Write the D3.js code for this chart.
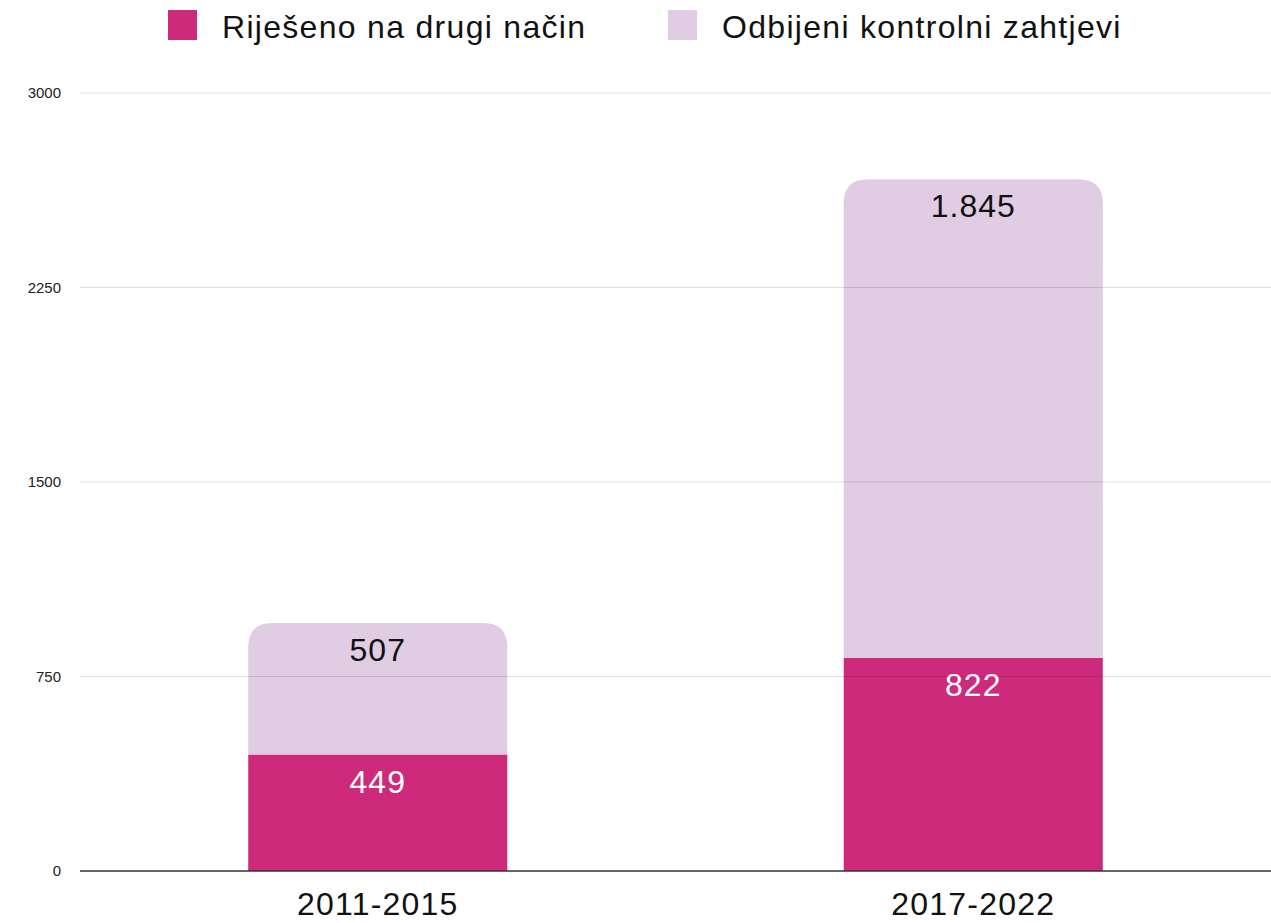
<!DOCTYPE html>
<html>
<head>
<meta charset="utf-8">
<script src="https://cdn.jsdelivr.net/npm/d3@7"></script>
<style>
  body { margin: 0; background: #fff; }
  text { font-family: "Liberation Sans", Arial, sans-serif; }
</style>
</head>
<body>
<svg id="chart"></svg>
<script>
// data
var periods = ["2011-2015", "2017-2022"];
var series = ["Riješeno na drugi način", "Odbijeni kontrolni zahtjevi"];
var resolved = [449, 822];
var rejected = [507, 1845];
var yTicks = [0, 750, 1500, 2250, 3000];
var colors = ["#cd2a7b", "#e0cde3"];

var svgWidth = 1271, svgHeight = 923;
var margin = {top: 93, right: 0, bottom: 52, left: 80};

var svg = d3.select("#chart")
  .attr("width", svgWidth)
  .attr("height", svgHeight);

var yScale = d3.scaleLinear()
  .domain([0, 3000])
  .range([svgHeight - margin.bottom, margin.top]);

var xScale = d3.scaleBand()
  .domain(periods)
  .range([margin.left, svgWidth - margin.right]);

var barWidth = xScale.bandwidth() * 0.435;
var radius = 24;

// thousands separator is a dot
var fmt = d3.formatLocale({decimal: ",", thousands: ".", grouping: [3], currency: ["", ""]}).format(",d");

// stack the two series
var rows = periods.map(function(p, i) {
  return {period: p, resolved: resolved[i], rejected: rejected[i]};
});
var stacked = d3.stack().keys(["resolved", "rejected"])(rows);

// path with rounded top corners only
function topRounded(x, y, w, h, r) {
  r = Math.min(r, h, w / 2);
  return "M" + x + "," + (y + h) +
    "V" + (y + r) +
    "Q" + x + "," + y + " " + (x + r) + "," + y +
    "H" + (x + w - r) +
    "Q" + (x + w) + "," + y + " " + (x + w) + "," + (y + r) +
    "V" + (y + h) + "Z";
}

// y axis labels
var yAxis = svg.append("g")
  .attr("transform", "translate(61,0)")
  .call(d3.axisLeft(yScale).tickValues(yTicks).tickFormat(function(d) { return d; }).tickSize(0).tickPadding(0));
yAxis.select(".domain").remove();
yAxis.selectAll("text")
  .attr("font-size", 15)
  .attr("fill", "#222")
  .attr("font-family", "Liberation Sans, Arial, sans-serif");

// bars
stacked.forEach(function(layer, li) {
  svg.selectAll(".seg" + li)
    .data(layer)
    .enter()
    .append("path")
    .attr("class", "seg" + li)
    .attr("fill", colors[li])
    .attr("d", function(d) {
      var x = xScale(d.data.period) + (xScale.bandwidth() - barWidth) / 2;
      var y0 = yScale(d[1]), y1 = yScale(d[0]);
      if (li == stacked.length - 1) return topRounded(x, y0, barWidth, y1 - y0, radius);
      return "M" + x + "," + y0 + "h" + barWidth + "V" + y1 + "H" + x + "Z";
    });

  svg.selectAll(".lab" + li)
    .data(layer)
    .enter()
    .append("text")
    .attr("class", "lab" + li)
    .attr("x", function(d) { return xScale(d.data.period) + xScale.bandwidth() / 2; })
    .attr("y", function(d) { return yScale(d[1]) + 38; })
    .attr("text-anchor", "middle")
    .attr("font-size", 32)
    .attr("letter-spacing", 1)
    .attr("fill", li == 0 ? "#fff" : "#111")
    .text(function(d) { return fmt(d[1] - d[0]); });
});

// gridlines on top of bars, faint
svg.append("g")
  .selectAll("line")
  .data(yTicks.filter(function(t) { return t > 0; }))
  .enter()
  .append("line")
  .attr("x1", margin.left)
  .attr("x2", svgWidth)
  .attr("y1", function(d) { return yScale(d); })
  .attr("y2", function(d) { return yScale(d); })
  .attr("stroke", "#000")
  .attr("stroke-opacity", 0.13)
  .attr("stroke-width", 1);

// baseline
svg.append("line")
  .attr("x1", margin.left)
  .attr("x2", svgWidth)
  .attr("y1", yScale(0))
  .attr("y2", yScale(0))
  .attr("stroke", "#333")
  .attr("stroke-width", 1.5);

// x axis labels
var xAxis = svg.append("g")
  .attr("transform", "translate(0," + yScale(0) + ")")
  .call(d3.axisBottom(xScale).tickSize(0).tickPadding(0));
xAxis.select(".domain").remove();
xAxis.selectAll("text")
  .attr("y", 44)
  .attr("dy", null)
  .attr("font-size", 32)
  .attr("letter-spacing", 1.2)
  .attr("fill", "#111")
  .attr("font-family", "Liberation Sans, Arial, sans-serif");

// legend
var legendX = [168, 668];
var legend = svg.selectAll(".legend")
  .data(series)
  .enter()
  .append("g")
  .attr("class", "legend")
  .attr("transform", function(d, i) { return "translate(" + legendX[i] + ",10)"; });

legend.append("rect")
  .attr("width", 29)
  .attr("height", 30)
  .attr("fill", function(d, i) { return colors[i]; });

legend.append("text")
  .attr("x", 54)
  .attr("y", 28)
  .attr("font-size", 32)
  .attr("letter-spacing", 1.3)
  .attr("fill", "#111")
  .text(function(d) { return d; });
</script>
</body>
</html>
